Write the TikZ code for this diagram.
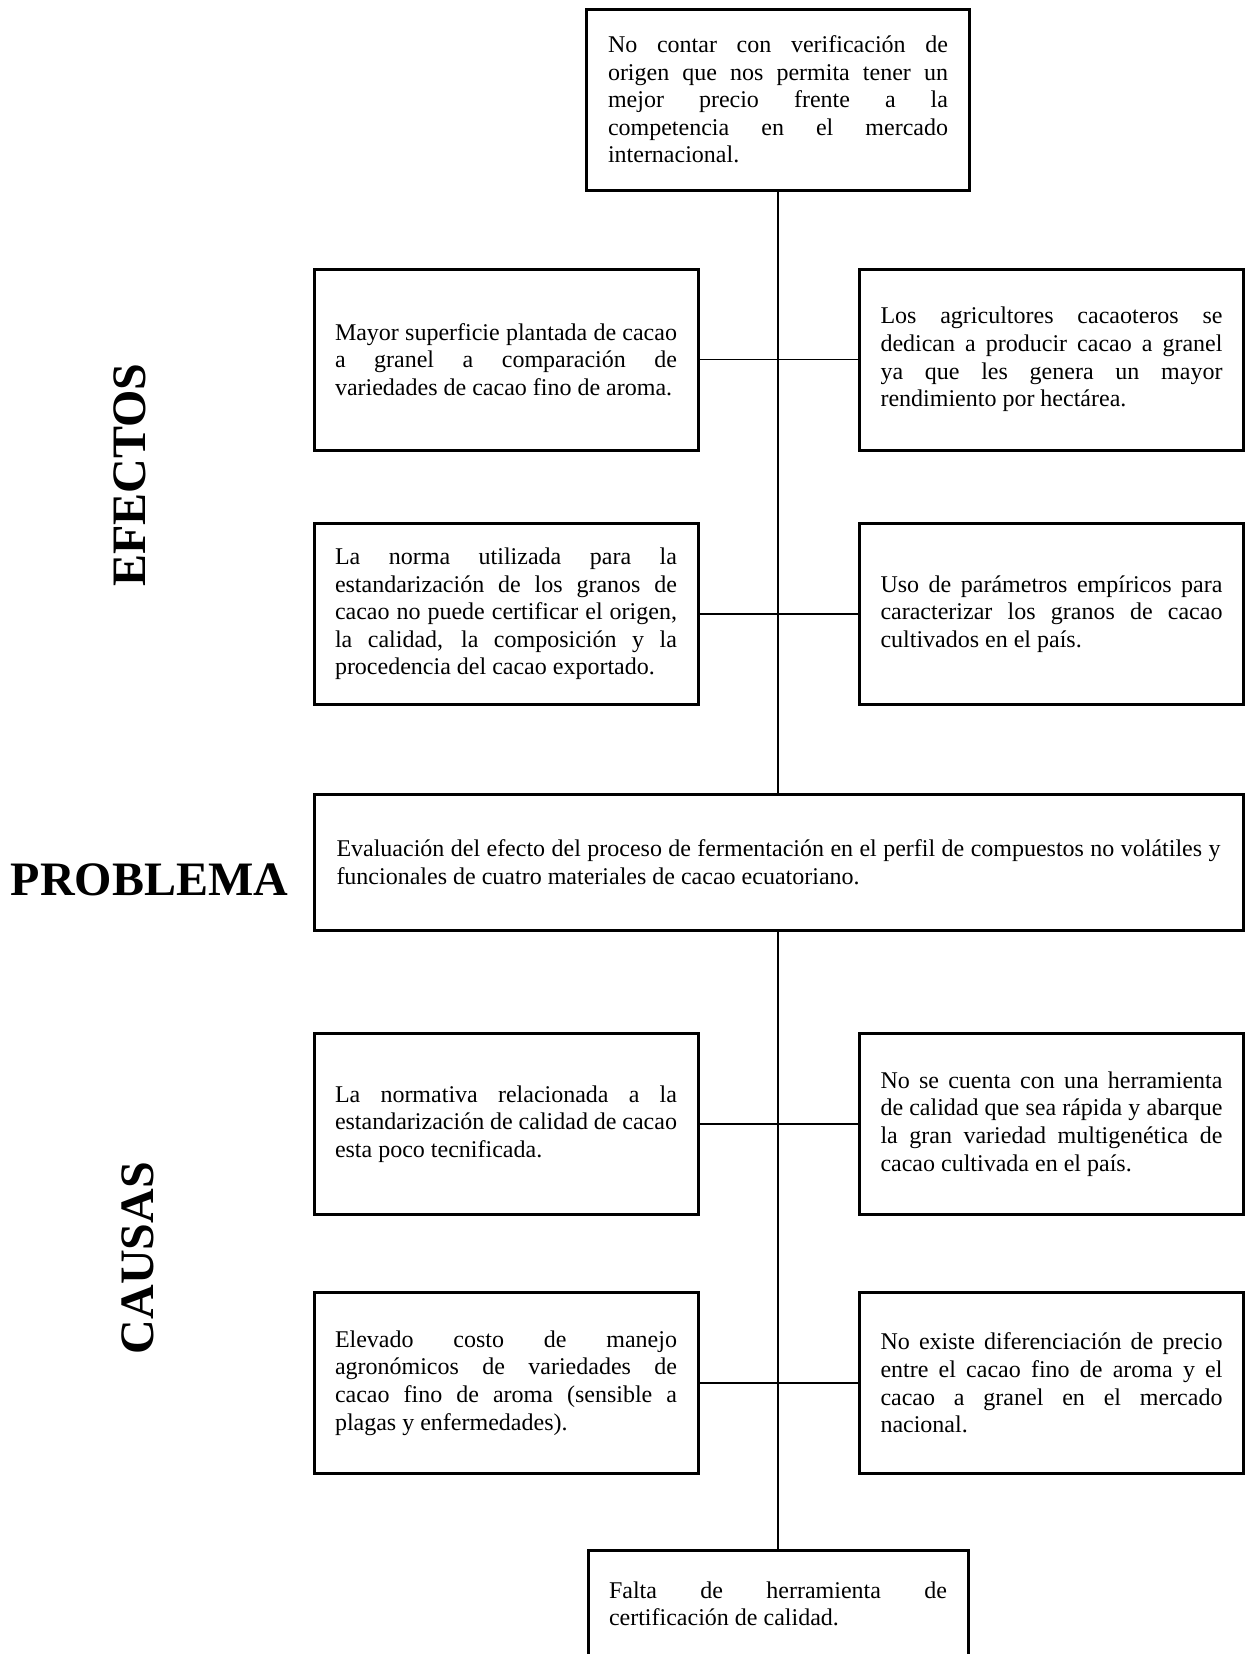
\documentclass[tikz,border=0pt]{standalone}
\usepackage{fontspec}
\setmainfont{Liberation Serif}
\usepackage{tikz}
\usetikzlibrary{positioning}
\hyphenpenalty=10000
\exhyphenpenalty=10000

\begin{document}
\begin{tikzpicture}[x=0.5pt, y=-0.5pt,
        caja/.style={draw, line width=1.5pt, minimum height=90.5pt, text width=171pt,
            inner xsep=10.5pt, align=justify, font=\fontsize{12}{13.8}\selectfont},
        titulo/.style={font=\fontsize{24}{28}\selectfont\bfseries, inner sep=0pt},
        linea/.style={line width=0.6pt}]
        \useasboundingbox (0,0) rectangle (1251,1654);
        % efecto principal
        \node[caja, text width=170pt, inner xsep=10.75pt] (efecto) at (778,99.5) {No contar con verificación de\linebreak origen que nos permita tener un\linebreak mejor precio frente a la\linebreak competencia en el mercado\linebreak internacional.};
        % efectos
        \node[caja] (izq1) at (506,359.5) {Mayor superficie plantada de cacao\linebreak a granel a comparación de\linebreak variedades de cacao fino de aroma.};
        \node[caja] (der1) at (1051.5,359.5) {Los agricultores cacaoteros se\linebreak dedican a producir cacao a granel\linebreak ya que les genera un mayor\linebreak rendimiento por hectárea.};
        \node[caja] (izq2) at (506,614) {La norma utilizada para la\linebreak estandarización de los granos de\linebreak cacao no puede certificar el origen,\linebreak la calidad, la composición y la\linebreak procedencia del cacao exportado.};
        \node[caja] (der2) at (1051.5,614) {Uso de parámetros empíricos para\linebreak caracterizar los granos de cacao\linebreak cultivados en el país.};
        % problema
        \node[caja, text width=442pt, inner xsep=11.25pt, minimum height=68pt] (problema) at (778.5,862) {Evaluación del efecto del proceso de fermentación en el perfil de compuestos no volátiles y\linebreak funcionales de cuatro materiales de cacao ecuatoriano.};
        % causas
        \node[caja] (izq3) at (506,1124) {La normativa relacionada a la\linebreak estandarización de calidad de cacao\linebreak esta poco tecnificada.};
        \node[caja] (der3) at (1051.5,1124) {No se cuenta con una herramienta\linebreak de calidad que sea rápida y abarque\linebreak la gran variedad multigenética de\linebreak cacao cultivada en el país.};
        \node[caja] (izq4) at (506,1383) {Elevado costo de manejo\linebreak agronómicos de variedades de\linebreak cacao fino de aroma (sensible a\linebreak plagas y enfermedades).};
        \node[caja] (der4) at (1051.5,1383) {No existe diferenciación de precio\linebreak entre el cacao fino de aroma y el\linebreak cacao a granel en el mercado\linebreak nacional.};
        % causa principal
        \node[caja, text width=169pt, inner xsep=10.5pt, minimum height=54pt] (causa) at (778,1604) {Falta de herramienta de\linebreak certificación de calidad.};
        % titulos
        \node[titulo, rotate=90] (efectos) at (130,475) {EFECTOS};
        \node[titulo] (tproblema) at (149.5,880) {PROBLEMA};
        \node[titulo, rotate=90] (causas) at (138,1258) {CAUSAS};
        % lineas
        \draw[linea] (efecto.south) -- (efecto.south |- problema.north);
        \draw[linea] (problema.south -| causa.north) -- (causa.north);
        \foreach \i in {1,...,4}
            \draw[linea] (izq\i.east) -- (der\i.west);
\end{tikzpicture}
\end{document}
